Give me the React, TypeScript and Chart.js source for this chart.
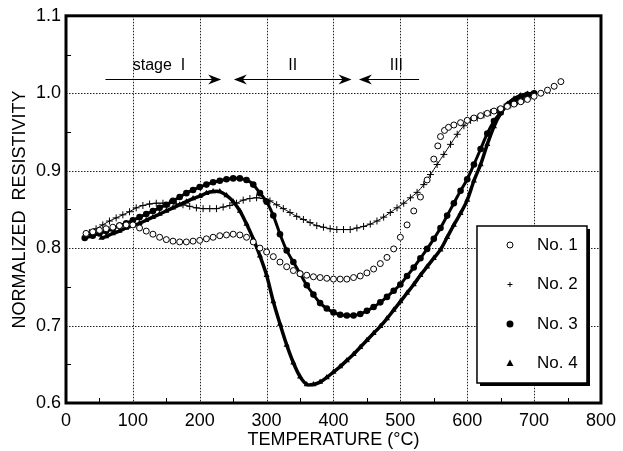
import React, { useEffect, useRef } from "react";
import { Chart, registerables } from "chart.js";

Chart.register(...registerables);

// ---- data ----
const temps1 = [30, 40, 50, 60, 70, 80, 90, 100, 110, 120, 130, 140, 150, 160, 170, 180, 190, 200, 210, 220, 230, 240, 250, 260, 270, 280, 290, 300, 310, 320, 330, 340, 350, 360, 370, 380, 390, 400, 410, 420, 430, 440, 450, 460, 470, 480, 490, 500, 510, 520, 530, 540, 550, 556, 560, 566, 572, 580, 590, 600, 610, 620, 630, 640, 650, 660, 670, 680, 690, 700, 710, 720, 730, 740];
const values1 = [0.819, 0.821, 0.823, 0.825, 0.827, 0.829, 0.83, 0.83, 0.826, 0.822, 0.818, 0.814, 0.811, 0.809, 0.808, 0.808, 0.809, 0.81, 0.812, 0.814, 0.816, 0.817, 0.818, 0.817, 0.814, 0.808, 0.8, 0.795, 0.789, 0.782, 0.776, 0.771, 0.767, 0.765, 0.763, 0.762, 0.761, 0.76, 0.76, 0.76, 0.762, 0.764, 0.768, 0.773, 0.78, 0.788, 0.799, 0.814, 0.83, 0.848, 0.866, 0.888, 0.915, 0.932, 0.944, 0.952, 0.956, 0.959, 0.962, 0.965, 0.968, 0.971, 0.974, 0.977, 0.98, 0.983, 0.986, 0.989, 0.992, 0.996, 1.0, 1.004, 1.009, 1.015];

const temps2 = [35, 45, 55, 65, 75, 85, 95, 105, 115, 125, 135, 145, 155, 165, 175, 185, 195, 205, 215, 225, 235, 245, 255, 265, 275, 285, 295, 305, 315, 325, 335, 345, 355, 365, 375, 385, 395, 405, 415, 425, 435, 445, 455, 465, 475, 485, 495, 505, 515, 525, 535, 545, 555, 565, 575, 585, 595, 605, 615, 625, 635, 645, 655, 665, 675, 685, 695];
const values2 = [0.82, 0.825, 0.83, 0.835, 0.839, 0.843, 0.847, 0.852, 0.855, 0.857, 0.858, 0.858, 0.858, 0.857, 0.856, 0.854, 0.852, 0.851, 0.851, 0.851, 0.853, 0.855, 0.858, 0.862, 0.864, 0.865, 0.864, 0.861, 0.856, 0.851, 0.846, 0.841, 0.837, 0.833, 0.829, 0.827, 0.825, 0.824, 0.824, 0.824, 0.826, 0.828, 0.831, 0.835, 0.84, 0.846, 0.852, 0.858, 0.865, 0.872, 0.882, 0.895, 0.908, 0.921, 0.934, 0.947, 0.958, 0.965, 0.968, 0.972, 0.975, 0.978, 0.982, 0.985, 0.989, 0.992, 0.996];

const temps3 = [28, 40, 50, 60, 70, 80, 90, 100, 110, 120, 130, 140, 150, 160, 170, 180, 190, 200, 210, 220, 230, 240, 250, 260, 270, 280, 290, 300, 310, 320, 330, 340, 350, 360, 370, 380, 390, 400, 410, 420, 430, 440, 450, 460, 470, 480, 490, 500, 510, 520, 530, 540, 550, 560, 570, 580, 590, 600, 610, 620, 630, 640, 650, 660, 670, 680, 690, 700];
const values3 = [0.813, 0.816, 0.819, 0.822, 0.825, 0.829, 0.832, 0.836, 0.84, 0.844, 0.848, 0.852, 0.856, 0.861, 0.866, 0.871, 0.875, 0.879, 0.882, 0.885, 0.887, 0.889, 0.89, 0.89, 0.888, 0.882, 0.871, 0.86, 0.842, 0.818, 0.797, 0.782, 0.767, 0.752, 0.74, 0.729, 0.722, 0.717, 0.714, 0.713, 0.713, 0.715, 0.719, 0.724, 0.73, 0.737, 0.745, 0.753, 0.764, 0.775, 0.787, 0.799, 0.812, 0.826, 0.842, 0.858, 0.874, 0.889, 0.908, 0.928, 0.948, 0.964, 0.975, 0.984, 0.99, 0.995, 0.998, 1.0];

const temps4 = [53, 60, 70, 80, 90, 100, 110, 120, 130, 140, 150, 160, 170, 180, 190, 200, 210, 220, 230, 240, 250, 260, 270, 280, 290, 300, 310, 320, 330, 340, 350, 360, 370, 380, 390, 400, 410, 420, 430, 440, 450, 460, 470, 480, 490, 500, 510, 520, 530, 540, 550, 560, 570, 580, 590, 600, 610, 620, 630, 640, 650, 660, 670, 680, 690, 700];
const values4 = [0.813, 0.815, 0.819, 0.822, 0.826, 0.829, 0.832, 0.836, 0.84, 0.844, 0.848, 0.852, 0.856, 0.86, 0.864, 0.867, 0.871, 0.873, 0.873, 0.868, 0.86, 0.848, 0.831, 0.812, 0.79, 0.765, 0.731, 0.702, 0.675, 0.652, 0.634, 0.624, 0.624, 0.627, 0.633, 0.64, 0.647, 0.655, 0.663, 0.672, 0.681, 0.69, 0.699, 0.709, 0.72, 0.731, 0.742, 0.753, 0.765, 0.776, 0.787, 0.798, 0.814, 0.83, 0.845, 0.862, 0.887, 0.908, 0.934, 0.957, 0.974, 0.986, 0.993, 0.997, 0.999, 1.0];

const seriesNames = ["No. 1", "No. 2", "No. 3", "No. 4"];
const xTicks = [0, 100, 200, 300, 400, 500, 600, 700, 800];
const yTicks = [0.6, 0.7, 0.8, 0.9, 1.0, 1.1];
const xMinorTicks = [50, 150, 250, 350, 450, 550, 650, 750];
const yMinorTicks = [0.65, 0.75, 0.85, 0.95, 1.05];

// stage annotations
const stageLabels = ["stage  I", "II", "III"];
const stageLabelTemps = [139, 339, 494];
const stageArrowFrom = [59, 251, 438];
const stageArrowTo = [232, 427, 528];
const stageArrowLevel = 1.019;
const stageLabelLevel = 1.036;

const FONT = "'Liberation Sans', Arial, Helvetica, sans-serif";

function toPoints(xs: number[], ys: number[]) {
  return xs.map((x, i) => ({ x, y: ys[i] }));
}

function drawHead(ctx: CanvasRenderingContext2D, x: number, y: number, dir: number) {
  const L = 13, W = 5, N = 4;
  ctx.beginPath();
  ctx.moveTo(x, y);
  ctx.lineTo(x - dir * L, y - W);
  ctx.lineTo(x - dir * (L - N), y);
  ctx.lineTo(x - dir * L, y + W);
  ctx.closePath();
  ctx.fill();
}

function drawMarker(ctx: CanvasRenderingContext2D, kind: number, x: number, y: number) {
  ctx.save();
  ctx.fillStyle = "#000";
  ctx.strokeStyle = "#000";
  ctx.lineWidth = 1;
  if (kind === 0) {
    ctx.beginPath();
    ctx.arc(x, y, 3, 0, Math.PI * 2);
    ctx.fillStyle = "#fff";
    ctx.fill();
    ctx.stroke();
  } else if (kind === 1) {
    ctx.beginPath();
    ctx.moveTo(x - 2.5, y);
    ctx.lineTo(x + 2.5, y);
    ctx.moveTo(x, y - 2.5);
    ctx.lineTo(x, y + 2.5);
    ctx.stroke();
  } else if (kind === 2) {
    ctx.beginPath();
    ctx.arc(x, y, 3.5, 0, Math.PI * 2);
    ctx.fill();
  } else {
    ctx.beginPath();
    ctx.moveTo(x, y - 4);
    ctx.lineTo(x + 3.5, y + 2.5);
    ctx.lineTo(x - 3.5, y + 2.5);
    ctx.closePath();
    ctx.fill();
  }
  ctx.restore();
}

const decoPlugin = {
  id: "deco",
  beforeDatasetsDraw(chart: any) {
    const ctx: CanvasRenderingContext2D = chart.ctx;
    const { left, right, top, bottom } = chart.chartArea;
    const xs = chart.scales.x;
    const ys = chart.scales.y;
    ctx.save();
    ctx.strokeStyle = "#222";
    ctx.lineWidth = 1;
    ctx.setLineDash([1.5, 1.5]);
    ctx.beginPath();
    xTicks.forEach((t) => {
      const px = Math.round(xs.getPixelForValue(t)) + 0.5;
      ctx.moveTo(px, top);
      ctx.lineTo(px, bottom);
    });
    yTicks.forEach((v) => {
      const py = Math.round(ys.getPixelForValue(v)) + 0.5;
      ctx.moveTo(left, py);
      ctx.lineTo(right, py);
    });
    ctx.stroke();
    ctx.restore();
  },
  afterDraw(chart: any) {
    const ctx: CanvasRenderingContext2D = chart.ctx;
    const { left, right, top, bottom } = chart.chartArea;
    const xs = chart.scales.x;
    const ys = chart.scales.y;
    ctx.save();
    // minor ticks
    ctx.strokeStyle = "#000";
    ctx.lineWidth = 1;
    ctx.beginPath();
    xMinorTicks.forEach((t) => {
      const px = Math.round(xs.getPixelForValue(t)) + 0.5;
      ctx.moveTo(px, bottom);
      ctx.lineTo(px, bottom - 5);
    });
    yMinorTicks.forEach((v) => {
      const py = Math.round(ys.getPixelForValue(v)) + 0.5;
      ctx.moveTo(left, py);
      ctx.lineTo(left + 5, py);
    });
    ctx.stroke();
    // frame
    ctx.lineWidth = 3;
    ctx.strokeRect(left, top, right - left, bottom - top);

    // stage arrows
    ctx.fillStyle = "#000";
    ctx.lineWidth = 1;
    const ay = Math.round(ys.getPixelForValue(stageArrowLevel)) + 0.5;
    for (let i = 0; i < stageLabels.length; i++) {
      const x0 = xs.getPixelForValue(stageArrowFrom[i]);
      const x1 = xs.getPixelForValue(stageArrowTo[i]);
      ctx.beginPath();
      if (i === 0) {
        ctx.moveTo(x0, ay);
        ctx.lineTo(x1 - 8, ay);
      } else if (i === 1) {
        ctx.moveTo(x0 + 8, ay);
        ctx.lineTo(x1 - 8, ay);
      } else {
        ctx.moveTo(x0 + 8, ay);
        ctx.lineTo(x1, ay);
      }
      ctx.stroke();
      if (i === 0 || i === 1) drawHead(ctx, x1, ay, 1);
      if (i === 1 || i === 2) drawHead(ctx, x0, ay, -1);
      ctx.font = `16px ${FONT}`;
      ctx.textAlign = "center";
      ctx.textBaseline = "middle";
      ctx.fillText(stageLabels[i], xs.getPixelForValue(stageLabelTemps[i]), ys.getPixelForValue(stageLabelLevel));
    }

    // legend box
    const bx = right - 124, by = bottom - 177, bw = 110, bh = 157;
    ctx.fillStyle = "#000";
    ctx.fillRect(bx + 3, by + 3, bw, bh);
    ctx.fillStyle = "#fff";
    ctx.fillRect(bx, by, bw, bh);
    ctx.strokeStyle = "#000";
    ctx.lineWidth = 1.5;
    ctx.strokeRect(bx, by, bw, bh);
    ctx.font = `17px ${FONT}`;
    ctx.textAlign = "left";
    ctx.textBaseline = "middle";
    for (let i = 0; i < seriesNames.length; i++) {
      const ry = by + 19 + i * 39.5;
      drawMarker(ctx, i, bx + 33, ry);
      ctx.fillStyle = "#000";
      ctx.fillText(seriesNames[i], bx + 60, ry);
    }
    ctx.restore();
  },
};

export default function App() {
  const ref = useRef<HTMLCanvasElement | null>(null);
  useEffect(() => {
    if (!ref.current) return;
    const chart = new Chart(ref.current, {
      type: "scatter",
      data: {
        datasets: [
          {
            label: seriesNames[0],
            data: toPoints(temps1, values1),
            showLine: false,
            pointStyle: "circle",
            pointRadius: 3,
            pointBackgroundColor: "#fff",
            pointBorderColor: "#000",
            pointBorderWidth: 1,
          },
          {
            label: seriesNames[1],
            data: toPoints(temps2, values2),
            showLine: true,
            borderColor: "#000",
            borderWidth: 1,
            tension: 0.3,
            pointStyle: "cross",
            pointRadius: 3.5,
            pointBorderColor: "#000",
            pointBorderWidth: 1,
          },
          {
            label: seriesNames[2],
            data: toPoints(temps3, values3),
            showLine: true,
            borderColor: "#000",
            borderWidth: 3,
            tension: 0.3,
            pointStyle: "circle",
            pointRadius: 3.3,
            pointBackgroundColor: "#000",
            pointBorderColor: "#000",
            pointBorderWidth: 0,
          },
          {
            label: seriesNames[3],
            data: toPoints(temps4, values4),
            showLine: true,
            borderColor: "#000",
            borderWidth: 3.5,
            tension: 0.3,
            pointStyle: "triangle",
            pointRadius: 3.5,
            pointBackgroundColor: "#000",
            pointBorderColor: "#000",
            pointBorderWidth: 0,
          },
        ],
      },
      options: {
        responsive: false,
        animation: false,
        devicePixelRatio: 1,
        layout: { padding: { top: 15, right: 16, left: 0, bottom: 0 } },
        plugins: { legend: { display: false }, tooltip: { enabled: false } },
        scales: {
          x: {
            type: "linear",
            min: 0,
            max: 800,
            afterFit: (s: any) => { s.height = 48; },
            afterBuildTicks: (s: any) => { s.ticks = xTicks.map((v) => ({ value: v })); },
            ticks: { color: "#000", font: { family: FONT, size: 18 }, padding: 7, maxRotation: 0, callback: (v: any) => String(v) },
            grid: { display: false, drawTicks: false },
            border: { display: false },
            title: { display: true, text: "TEMPERATURE (°C)", color: "#000", font: { family: FONT, size: 18 }, padding: { top: 0, bottom: 0 } },
          },
          y: {
            type: "linear",
            min: 0.6,
            max: 1.1,
            afterFit: (s: any) => { s.width = 66; },
            afterBuildTicks: (s: any) => { s.ticks = yTicks.map((v) => ({ value: v })); },
            ticks: { color: "#000", font: { family: FONT, size: 18 }, padding: 5, callback: (v: any) => Number(v).toFixed(1) },
            grid: { display: false, drawTicks: false },
            border: { display: false },
            title: { display: true, text: "NORMALIZED  RESISTIVITY", color: "#000", font: { family: FONT, size: 18 }, padding: { top: 9, bottom: 0 } },
          },
        },
      },
      plugins: [decoPlugin],
    } as any);
    return () => chart.destroy();
  }, []);
  return (
    <div style={{ position: "absolute", left: 0, top: 0, width: 623, height: 451, background: "#fff" }}>
      <canvas ref={ref} width={623} height={451} style={{ display: "block" }} />
    </div>
  );
}
